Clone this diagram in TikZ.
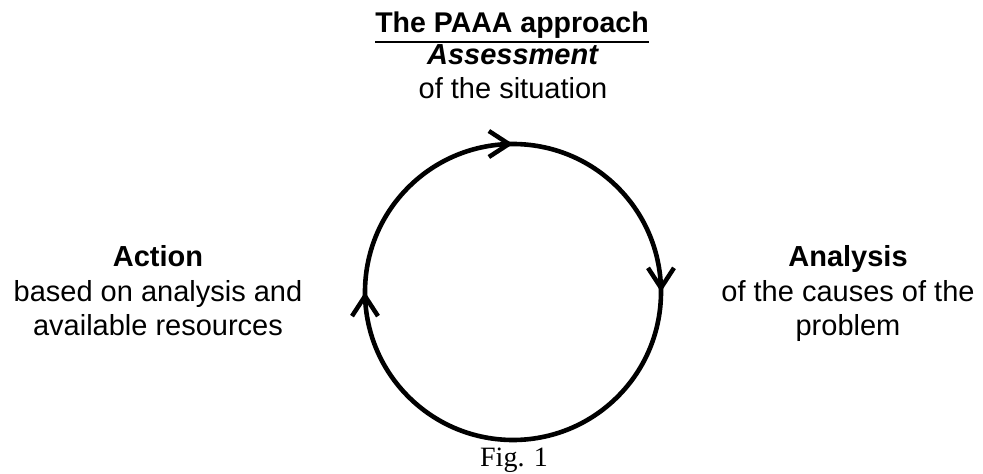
\documentclass[tikz,border=0pt]{standalone}
\usepackage{fontspec}
\setmainfont{Liberation Sans}
\newfontfamily\captionfont{Liberation Serif}
\usetikzlibrary{arrows.meta,decorations.markings}
\begin{document}
\begin{tikzpicture}[x=1pt,y=1pt,
  txt/.style={inner sep=0pt, align=center, anchor=base,
    font=\fontsize{29pt}{34.5pt}\selectfont},
  barb/.tip={Straight Barb[length=20pt,width=26pt,line width=4.5pt]},
  ring/.style={line width=4.6pt, postaction={decorate},
    decoration={markings,
      mark=at position 0.125 with {\arrow{barb}},
      mark=at position 0.375 with {\arrow{barb}},
      mark=at position 0.875 with {\arrow{barb}}}}]
\useasboundingbox (0,0) rectangle (983,474);

% heading
\node[txt, font=\bfseries\fontsize{28.5pt}{30pt}\selectfont] (title) at (512,441) {The PAAA approach};
\draw[line width=2.2pt] ([yshift=-9pt]title.base west) -- ([yshift=-9pt]title.base east);

% the four stages
\node[txt, font=\fontsize{29pt}{34pt}\selectfont] (assess) at (513,375)
  {\textbf{\textit{Assessment}}\\of the situation};
\node[txt] (analysis) at (848,138)
  {\textbf{Analysis}\\of the causes of the\\problem};
\node[txt] (action) at (158,138)
  {\textbf{Action}\\based on analysis and\\available resources};

% the cycle, drawn clockwise
\coordinate (cyc) at (513,182);
\draw[ring] (cyc) ++(135:148) arc[start angle=135, delta angle=-360, radius=148];

% caption
\node[inner sep=0pt, anchor=base, font=\captionfont\fontsize{28pt}{30pt}\selectfont] (fig) at (514,7) {Fig. 1};
\end{tikzpicture}
\end{document}
